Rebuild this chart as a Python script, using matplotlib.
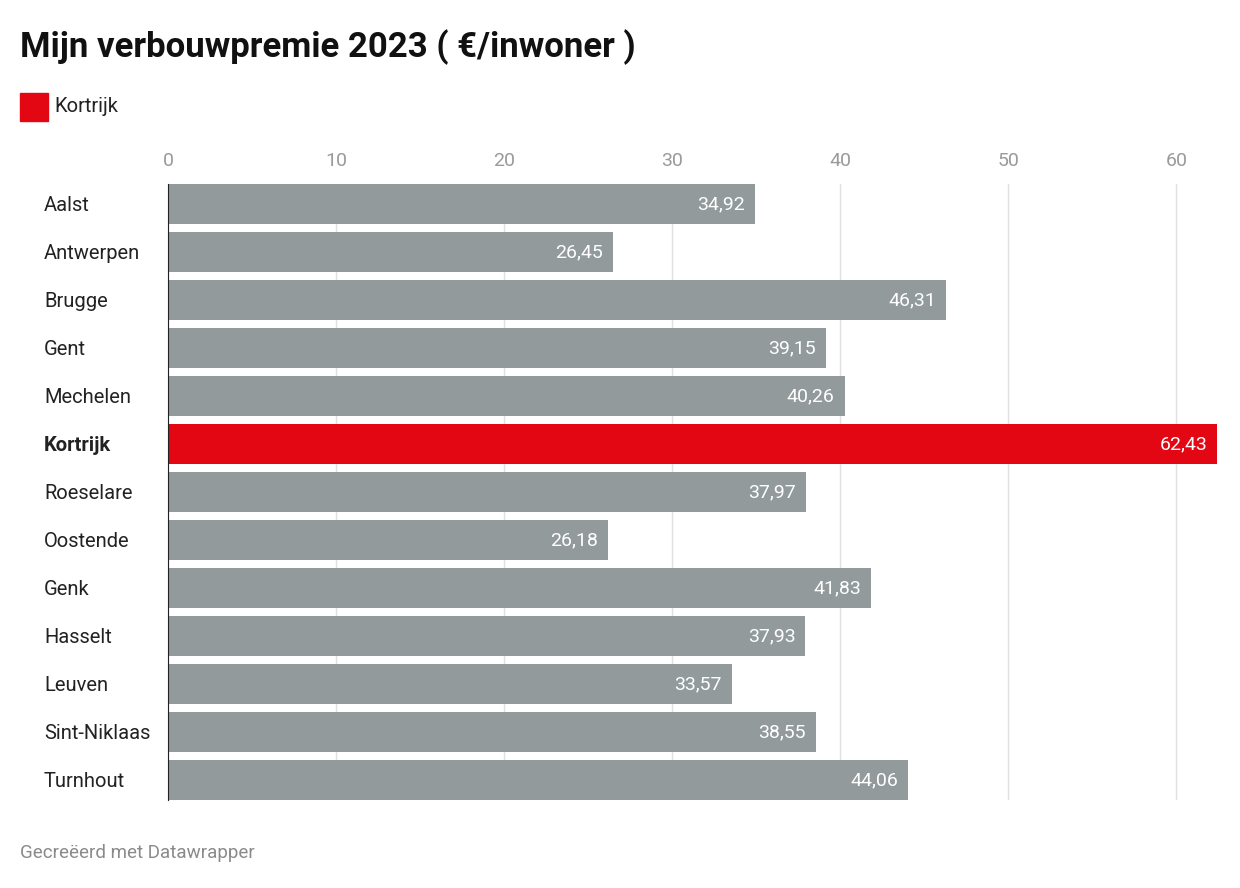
import matplotlib.pyplot as plt
from matplotlib.patches import Rectangle

plt.rcParams['font.family'] = ['Roboto', 'DejaVu Sans']

cities = ['Aalst', 'Antwerpen', 'Brugge', 'Gent', 'Mechelen', 'Kortrijk', 'Roeselare',
          'Oostende', 'Genk', 'Hasselt', 'Leuven', 'Sint-Niklaas', 'Turnhout']
values = [34.92, 26.45, 46.31, 39.15, 40.26, 62.43, 37.97, 26.18, 41.83, 37.93, 33.57, 38.55, 44.06]
highlight = 'Kortrijk'
ticks = [0, 10, 20, 30, 40, 50, 60]

grey = '#929a9b'
red = '#e30613'

fig = plt.figure(figsize=(12.4, 8.88), dpi=100)
ax = fig.add_axes([0.1355, 0.0991, 0.8484, 0.6937])

colors = [red if c == highlight else grey for c in cities]
y = list(range(len(cities)))
ax.barh(y, values, height=0.833, color=colors, zorder=2)
for yi, v in zip(y, values):
    ax.text(v - 0.6, yi, f"{v:.2f}".replace('.', ','), ha='right', va='center',
            color='white', fontsize=14, zorder=3)

ax.set_ylim(len(cities) - 0.5 + 0.0833, -0.5 - 0.0833 + 0.1666)
ax.set_ylim(12.4167, -0.4167)
ax.set_xlim(0, 62.6)
ax.set_xticks(ticks)
ax.xaxis.tick_top()
ax.tick_params(axis='x', length=0, colors='#9a9a9a', labelsize=14, pad=10)
ax.grid(axis='x', color='#e0e0e0', lw=1, zorder=0)
ax.set_yticks(y)
ax.set_yticklabels(cities, fontsize=14.5, color='#222222')
ax.tick_params(axis='y', length=0, pad=0)
for lbl in ax.get_yticklabels():
    lbl.set_horizontalalignment('left')
    lbl.set_x(-0.118)
    if lbl.get_text() == highlight:
        lbl.set_fontweight('bold')
for s in ['top', 'right', 'bottom']:
    ax.spines[s].set_visible(False)
ax.spines['left'].set_color('#222222')
ax.spines['left'].set_zorder(4)

fig.text(20 / 1240, 1 - 47 / 888, 'Mijn verbouwpremie 2023 ( €/inwoner )', fontsize=25,
         fontweight='bold', va='center', ha='left', color='#111111')
fig.patches.append(Rectangle((20 / 1240, 1 - 121 / 888), 28 / 1240, 28 / 888,
                             transform=fig.transFigure, color=red))
fig.text(54 / 1240, 1 - 106 / 888, 'Kortrijk', fontsize=14.5, va='center', color='#222222')
fig.text(20 / 1240, 1 - 853 / 888, 'Gecreëerd met Datawrapper', fontsize=13.5,
         va='center', color='#8a8a8a')

fig.savefig('out.png', dpi=100)
